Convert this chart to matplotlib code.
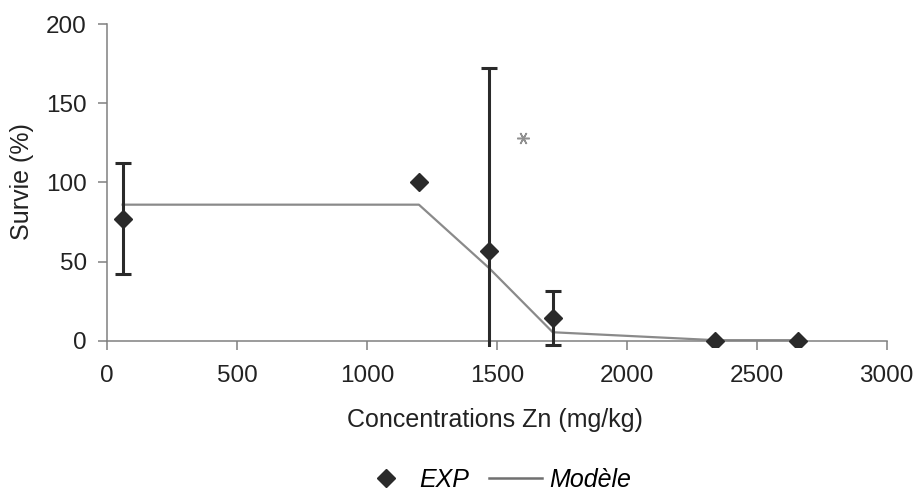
import matplotlib
matplotlib.use("Agg")
import matplotlib.pyplot as plt
from matplotlib.lines import Line2D

plt.rcParams['font.family'] = ['Liberation Sans', 'DejaVu Sans']

conc = [60, 1200, 1470, 1715, 2340, 2660]
survie = [77, 100, 57, 14.5, 0, 0]
err = [35, 0, 115, 17, 0, 0]
model_x = [60, 1200, 1470, 1715, 2340, 2660]
model_y = [86, 86, 46, 5.5, 0.5, 0.5]
star_x, star_y = 1600, 128

fig = plt.figure(figsize=(9.17, 4.92), dpi=100)
ax = fig.add_axes([0.1167, 0.2941, 0.8503, 0.6571])

ax.plot(model_x, model_y, color='#8a8a8a', lw=1.6, zorder=2)
ex = [c for c, e in zip(conc, err) if e > 0]
ey = [s for s, e in zip(survie, err) if e > 0]
ee = [e for e in err if e > 0]
ax.errorbar(ex, ey, yerr=ee, fmt='none', ecolor='#2a2a2a', elinewidth=2.2, capsize=5.5, capthick=2.2, zorder=3)
ax.plot(conc, survie, linestyle='none', marker='D', markersize=9, color='#2a2a2a', zorder=4)
ax.plot([star_x], [star_y], linestyle='none', marker=(6, 2, 90), markersize=9, color='#909090', markeredgewidth=1.1)

ax.set_xlim(0, 3000)
ax.set_ylim(-4, 200)
ax.set_xticks(range(0, 3001, 500))
ax.set_yticks(range(0, 201, 50))
ax.spines['top'].set_visible(False)
ax.spines['right'].set_visible(False)
ax.spines['bottom'].set_position(('data', 0))
ax.spines['left'].set_bounds(0, 200)
for s in ('bottom', 'left'):
    ax.spines[s].set_color('#808080')
    ax.spines[s].set_linewidth(1.1)
ax.tick_params(direction='out', length=6.5, width=1.1, color='#808080', labelsize=17.5, labelcolor='#222222')
ax.tick_params(axis='x', pad=11)
ax.tick_params(axis='y', pad=8)
fig.text(0.540, 1 - 420 / 492, 'Concentrations Zn (mg/kg)', fontsize=18, color='#222222', ha='center', va='center')
fig.text(22 / 917, 1 - 182 / 492, 'Survie (%)', fontsize=18, color='#222222', ha='center', va='center', rotation=90)

handles = [Line2D([], [], linestyle='none', marker='D', markersize=9, color='#2a2a2a'),
           Line2D([], [], color='#707070', lw=1.8)]
fig.legend(handles, ['EXP', 'Modèle'], loc='center', bbox_to_anchor=(0.54, 1 - 480 / 492), ncol=2,
           frameon=False, prop={'style': 'italic', 'size': 18}, handlelength=2.1, columnspacing=0.8,
           handletextpad=0.3, borderpad=0, borderaxespad=0)

fig.savefig('out.png', dpi=100)
